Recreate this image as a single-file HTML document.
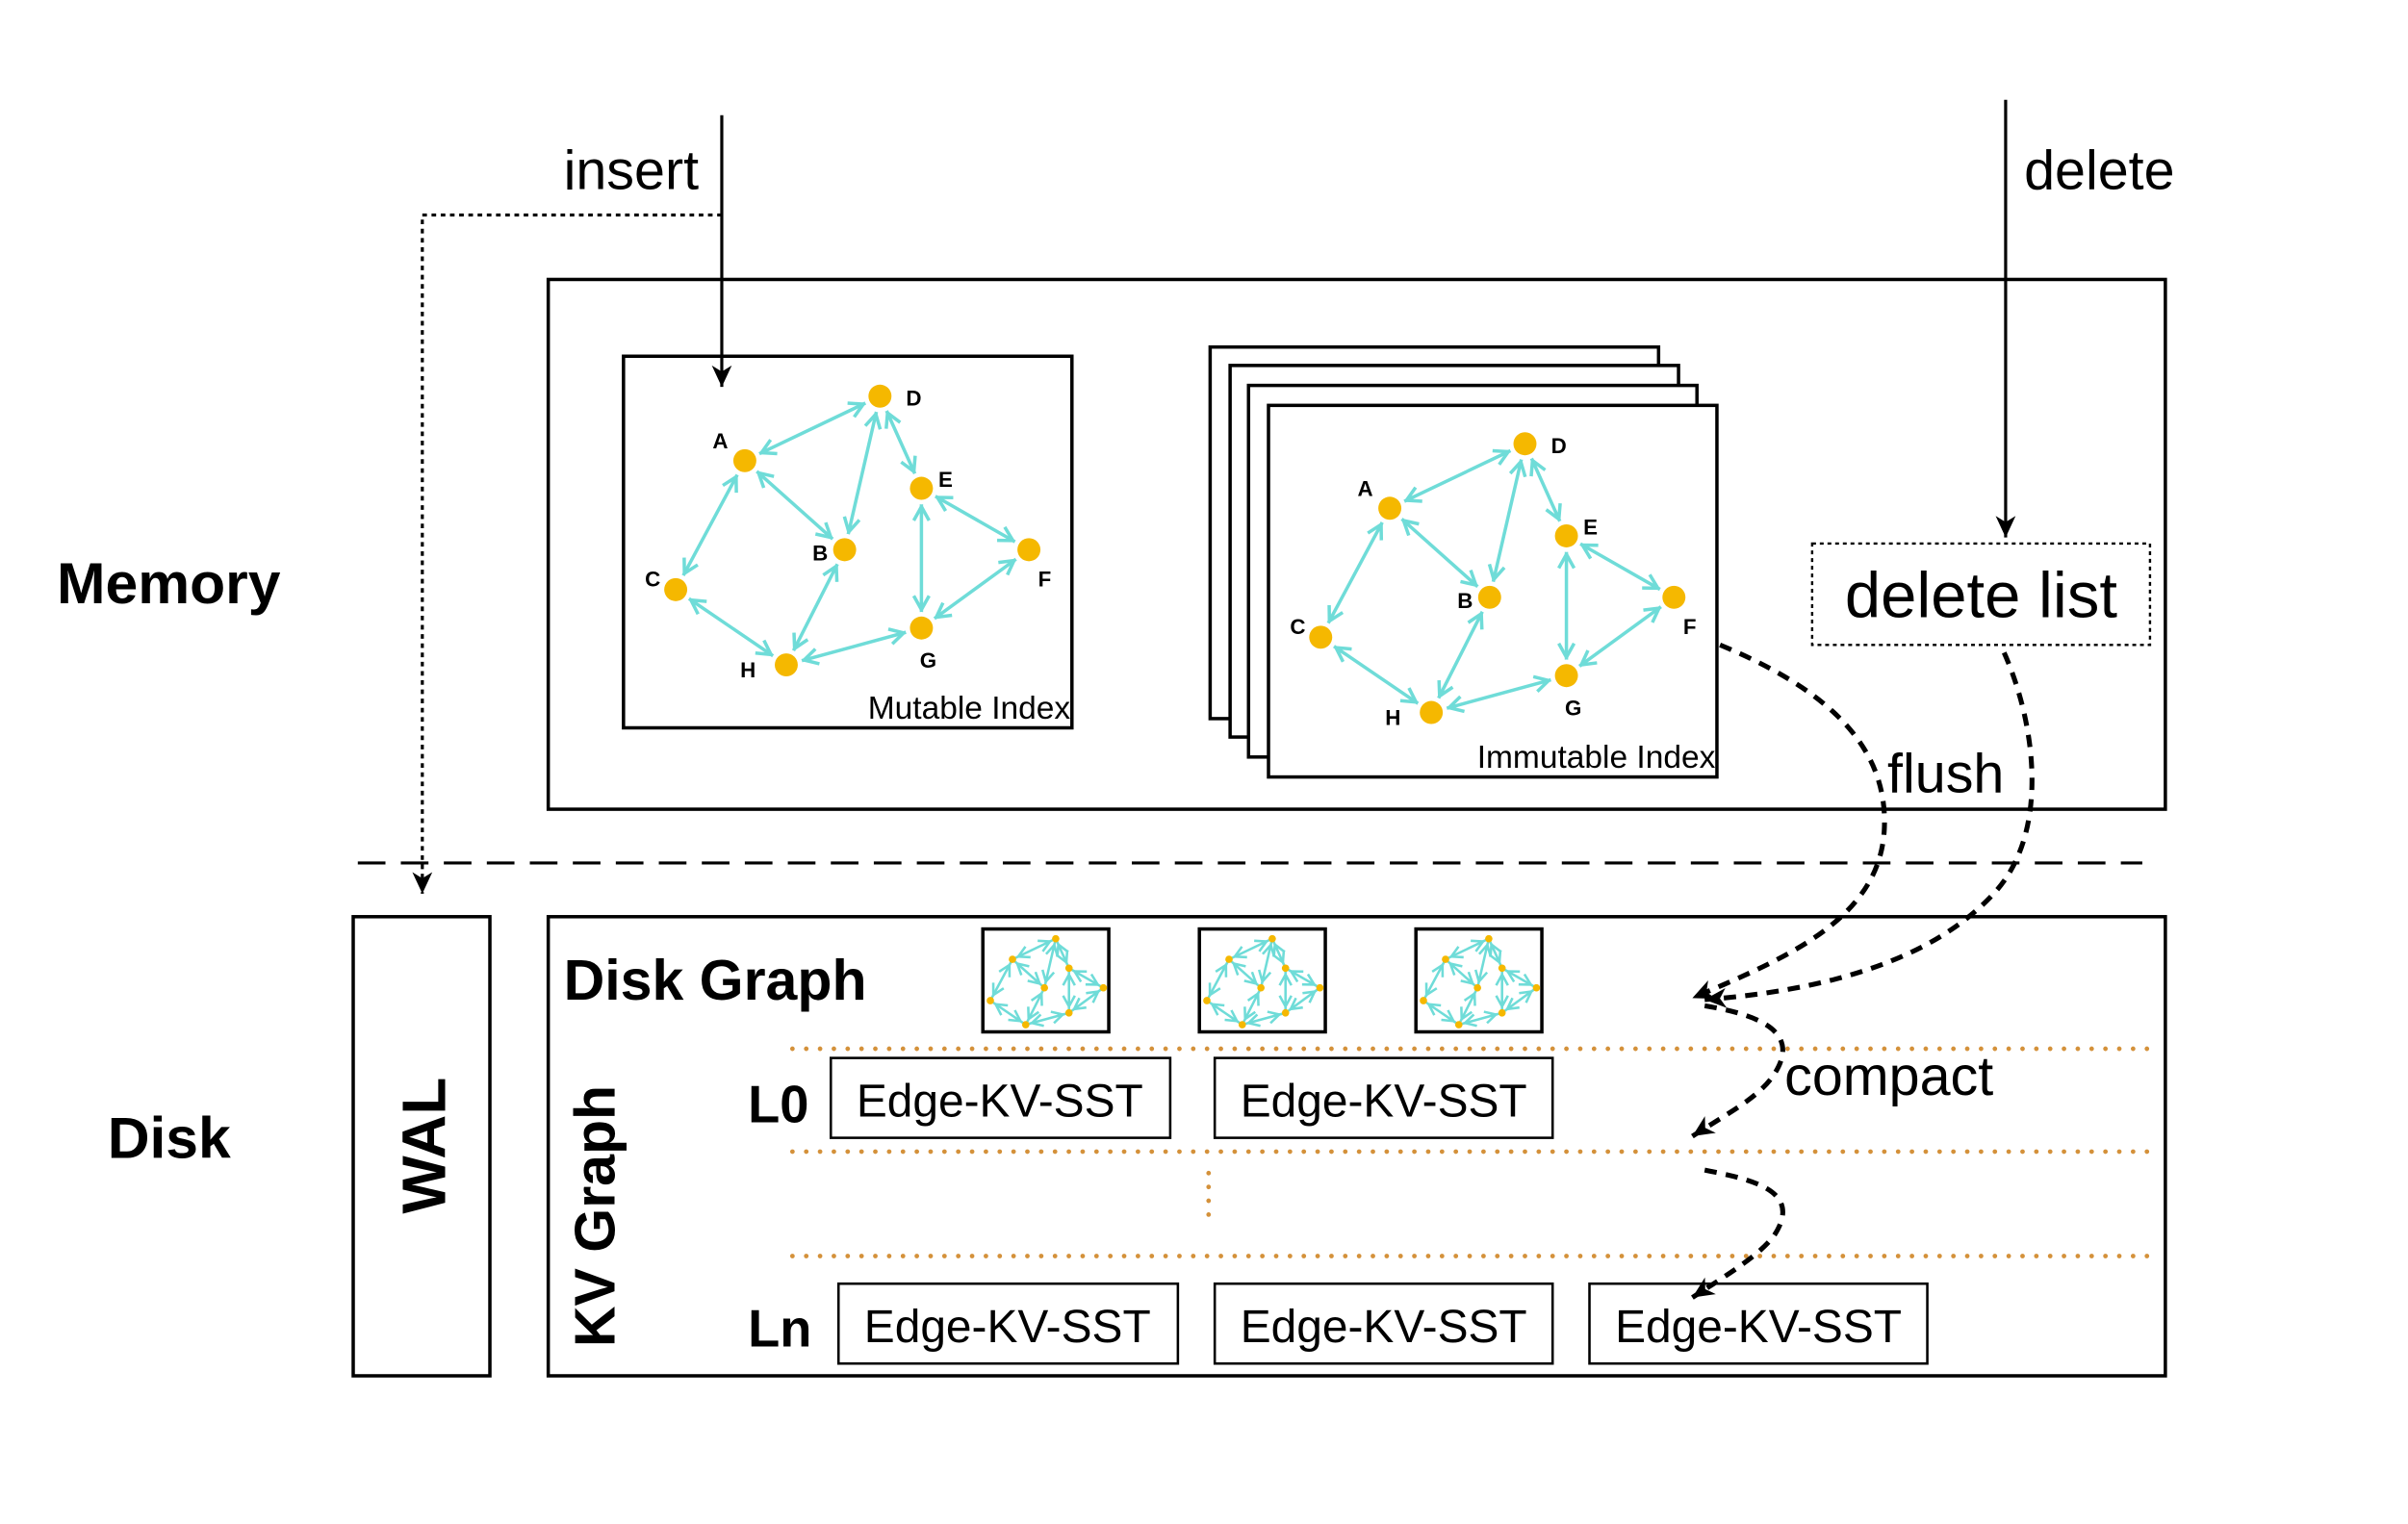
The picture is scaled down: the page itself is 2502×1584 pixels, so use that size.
<!DOCTYPE html>
<html><head><meta charset="utf-8"><style>
html,body{margin:0;padding:0;background:#fff;}
svg{display:block;}
text{font-family:"Liberation Sans",Arial,sans-serif;}
</style></head><body>
<svg width="2502" height="1584" viewBox="0 0 1568 992.5" preserveAspectRatio="none" xmlns="http://www.w3.org/2000/svg">
<defs>
<marker id="ca" markerUnits="userSpaceOnUse" viewBox="-14 -8 28 16" markerWidth="28" markerHeight="16" refX="12" refY="0" orient="auto-start-reverse" overflow="visible">
<path d="M-9,-5 L0,0 L-9,5" fill="none" stroke="#6fdcd8" stroke-width="2.2"/>
</marker>
<marker id="ct" markerUnits="userSpaceOnUse" viewBox="-40 -20 80 40" markerWidth="80" markerHeight="40" refX="13" refY="0" orient="auto-start-reverse" overflow="visible">
<path d="M-22,-12 L0,0 L-22,12" fill="none" stroke="#6fdcd8" stroke-width="5"/>
</marker>
<marker id="ba" markerUnits="userSpaceOnUse" viewBox="-14 -7 16 14" markerWidth="16" markerHeight="14" refX="0" refY="0" orient="auto" overflow="visible">
<path d="M-14,-6.5 L0,0 L-14,6.5 L-10,0 z" fill="#000"/>
</marker>
<g id="lines">
<line x1="79" y1="68" x2="167" y2="26"/>
<line x1="167" y1="26" x2="144" y2="126"/>
<line x1="167" y1="26" x2="194" y2="86"/>
<line x1="79" y1="68" x2="144" y2="126"/>
<line x1="79" y1="68" x2="34" y2="152"/>
<line x1="34" y1="152" x2="106" y2="201"/>
<line x1="106" y1="201" x2="144" y2="126"/>
<line x1="106" y1="201" x2="194" y2="177"/>
<line x1="194" y1="86" x2="194" y2="177"/>
<line x1="194" y1="86" x2="264" y2="126"/>
<line x1="264" y1="126" x2="194" y2="177"/>
</g>
<g id="masks" fill="#fff">
<circle cx="79" cy="68" r="10.5"/><circle cx="167" cy="26" r="10.5"/><circle cx="194" cy="86" r="10.5"/>
<circle cx="144" cy="126" r="10.5"/><circle cx="264" cy="126" r="10.5"/><circle cx="34" cy="152" r="10.5"/>
<circle cx="194" cy="177" r="10.5"/><circle cx="106" cy="201" r="10.5"/>
</g>
<g id="nodes" fill="#f5b800">
<circle cx="79" cy="68" r="7.5"/><circle cx="167" cy="26" r="7.5"/><circle cx="194" cy="86" r="7.5"/>
<circle cx="144" cy="126" r="7.5"/><circle cx="264" cy="126" r="7.5"/><circle cx="34" cy="152" r="7.5"/>
<circle cx="194" cy="177" r="7.5"/><circle cx="106" cy="201" r="7.5"/>
</g>
<g id="graph">
<g stroke="#6fdcd8" stroke-width="2.2" marker-start="url(#ca)" marker-end="url(#ca)"><use href="#lines"/></g>
<use href="#masks"/><use href="#nodes"/>
<g font-size="14" font-weight="bold">
<text x="58" y="60">A</text><text x="184" y="32">D</text><text x="205" y="85">E</text>
<text x="123" y="133">B</text><text x="270" y="150">F</text><text x="14" y="150">C</text>
<text x="76" y="209">H</text><text x="193" y="203">G</text>
</g>
</g>
<g id="thumb">
<g stroke="#6fdcd8" stroke-width="5" marker-start="url(#ct)" marker-end="url(#ct)"><use href="#lines"/></g>
<use href="#nodes"/>
</g>
</defs>

<text x="37" y="393" font-size="38" font-weight="bold">Memory</text>
<text x="70" y="754" font-size="38" font-weight="bold">Disk</text>

<text x="367" y="123" font-size="36">insert</text>
<polyline points="470,140 275,140 275,582" fill="none" stroke="#000" stroke-width="2" stroke-dasharray="3,3" marker-end="url(#ba)"/>

<text x="1318" y="123" font-size="36">delete</text>
<line x1="1306" y1="65" x2="1306" y2="350" stroke="#000" stroke-width="2" marker-end="url(#ba)"/>

<rect x="357" y="182" width="1053" height="345" fill="none" stroke="#000" stroke-width="2.2"/>

<rect x="406" y="232" width="292" height="242" fill="#fff" stroke="#000" stroke-width="2.2"/>
<use href="#graph" transform="translate(406,232)"/>
<text x="697" y="468" font-size="21" text-anchor="end">Mutable Index</text>
<line x1="470" y1="75" x2="470" y2="252" stroke="#000" stroke-width="2" marker-end="url(#ba)"/>

<rect x="788" y="226" width="292" height="242" fill="#fff" stroke="#000" stroke-width="2.2"/>
<rect x="801" y="238" width="292" height="242" fill="#fff" stroke="#000" stroke-width="2.2"/>
<rect x="813" y="251" width="292" height="242" fill="#fff" stroke="#000" stroke-width="2.2"/>
<rect x="826" y="264" width="292" height="242" fill="#fff" stroke="#000" stroke-width="2.2"/>
<use href="#graph" transform="translate(826,263)"/>
<text x="1117" y="500" font-size="21" text-anchor="end">Immutable Index</text>

<rect x="1180" y="354" width="220" height="66" fill="#fff" stroke="#000" stroke-width="1.5" stroke-dasharray="2.5,2.5"/>
<text x="1290" y="402" font-size="42" text-anchor="middle">delete list</text>

<line x1="233" y1="562" x2="1395" y2="562" stroke="#000" stroke-width="2" stroke-dasharray="18,10"/>

<rect x="230" y="597" width="89" height="299" fill="none" stroke="#000" stroke-width="2.2"/>
<text transform="translate(290,746) rotate(-90)" font-size="40" font-weight="bold" text-anchor="middle">WAL</text>

<rect x="357" y="597" width="1053" height="299" fill="none" stroke="#000" stroke-width="2.2"/>
<text x="367" y="651" font-size="37" font-weight="bold">Disk Graph</text>
<text transform="translate(400,792) rotate(-90)" font-size="37" font-weight="bold" text-anchor="middle">KV Graph</text>

<rect x="640" y="605" width="82" height="67" fill="#fff" stroke="#000" stroke-width="2.2"/>
<use href="#thumb" transform="translate(634,603) scale(0.32)"/>
<rect x="781" y="605" width="82" height="67" fill="#fff" stroke="#000" stroke-width="2.2"/>
<use href="#thumb" transform="translate(775,603) scale(0.32)"/>
<rect x="922" y="605" width="82" height="67" fill="#fff" stroke="#000" stroke-width="2.2"/>
<use href="#thumb" transform="translate(916,603) scale(0.32)"/>

<g stroke="#d4913a" stroke-width="3" stroke-linecap="round" stroke-dasharray="0,9" fill="none">
<line x1="516" y1="683" x2="1400" y2="683"/>
<line x1="516" y1="750" x2="1400" y2="750"/>
<line x1="516" y1="818" x2="1400" y2="818"/>
<line x1="787" y1="764" x2="787" y2="800"/>
</g>

<text x="487" y="731" font-size="34" font-weight="bold">L0</text>
<text x="487" y="877" font-size="34" font-weight="bold">Ln</text>

<g fill="#fff" stroke="#000" stroke-width="1.6">
<rect x="541" y="689" width="221" height="52"/>
<rect x="791" y="689" width="220" height="52"/>
<rect x="546" y="836" width="221" height="52"/>
<rect x="791" y="836" width="220" height="52"/>
<rect x="1035" y="836" width="220" height="52"/>
</g>
<g font-size="30" text-anchor="middle">
<text x="651" y="727">Edge-KV-SST</text>
<text x="901" y="727">Edge-KV-SST</text>
<text x="656" y="874">Edge-KV-SST</text>
<text x="901" y="874">Edge-KV-SST</text>
<text x="1145" y="874">Edge-KV-SST</text>
</g>

<g fill="none" stroke="#000" stroke-width="3.2" stroke-dasharray="8,6">
<path d="M1120,420 C1180,445 1230,480 1227,540 C1224,600 1160,625 1102,650" marker-end="url(#ba)"/>
<path d="M1305,425 C1325,470 1335,540 1300,580 C1260,625 1190,645 1110,651" marker-end="url(#ba)"/>
<path d="M1110,655 C1140,660 1175,670 1155,700 C1145,715 1125,725 1102,740" marker-end="url(#ba)"/>
<path d="M1110,762 C1140,768 1175,775 1155,805 C1145,818 1125,830 1102,845" marker-end="url(#ba)"/>
</g>
<text x="1229" y="516" font-size="36">flush</text>
<text x="1162" y="713" font-size="36">compact</text>
</svg>
</body></html>
